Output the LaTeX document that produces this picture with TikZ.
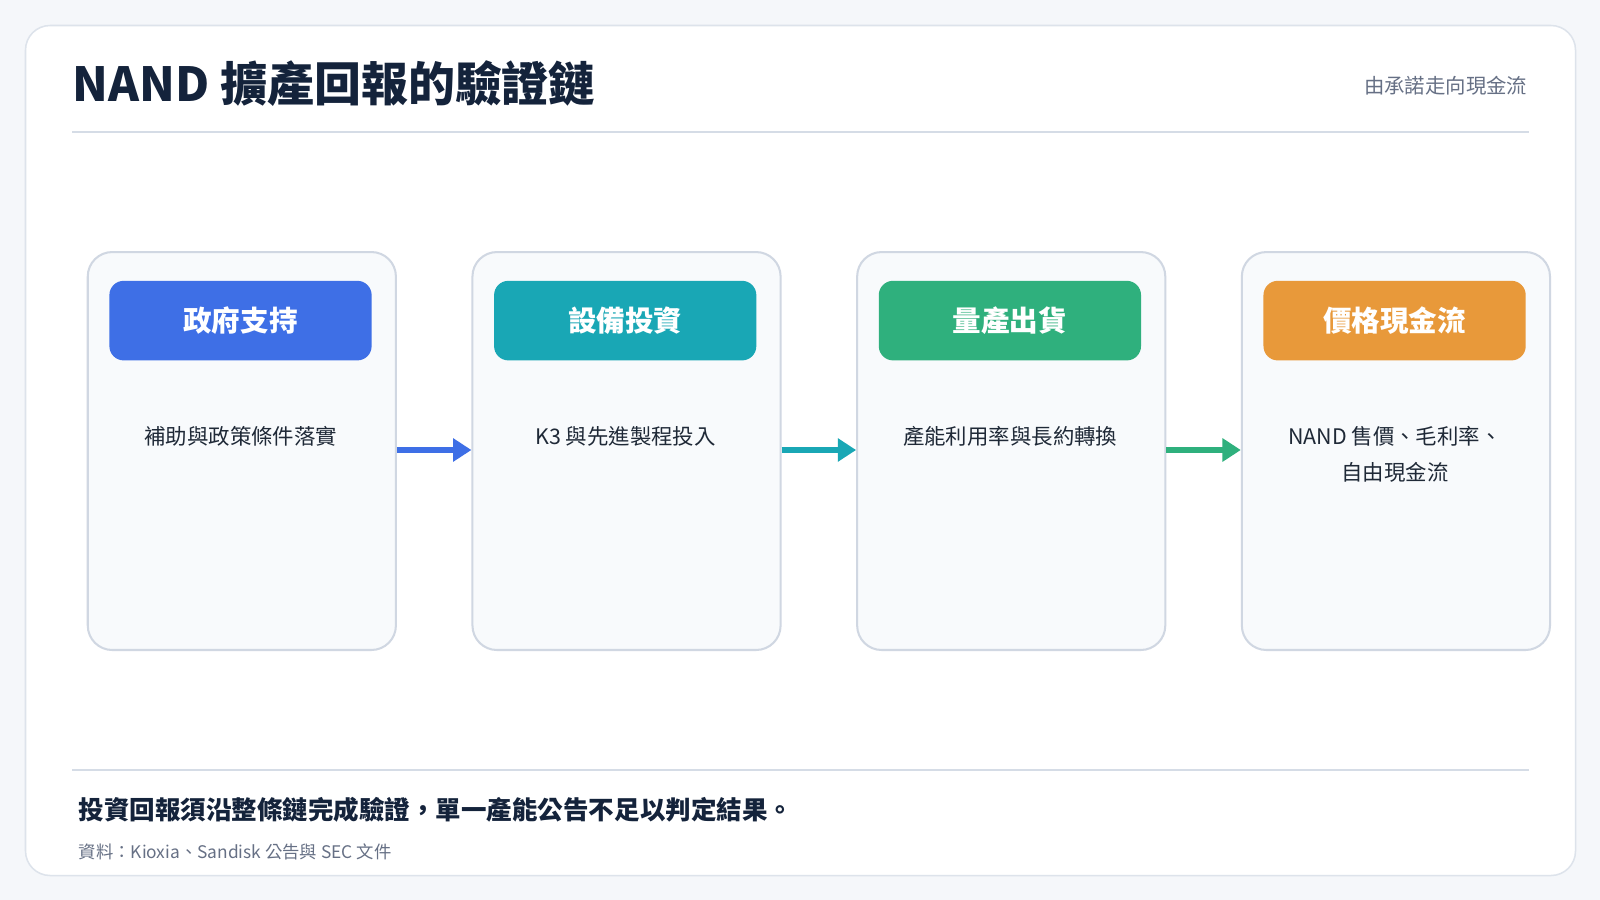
\documentclass[tikz,border=0pt]{standalone}
\usepackage{fontspec}
\setmainfont{Noto Sans CJK TC}
\usetikzlibrary{arrows.meta}
\definecolor{bg}{HTML}{F5F7FA}
\definecolor{cardline}{HTML}{DDE3EB}
\definecolor{rule}{HTML}{D5DCE6}
\definecolor{boxfill}{HTML}{F8FAFC}
\definecolor{boxline}{HTML}{D0D7E2}
\definecolor{navy}{HTML}{14233B}
\definecolor{greytext}{HTML}{667085}
\definecolor{cA}{HTML}{3E6FE6}
\definecolor{cB}{HTML}{19A7B5}
\definecolor{cC}{HTML}{2FB07D}
\definecolor{cD}{HTML}{E8993A}
\definecolor{bodytext}{HTML}{1F2937}
\begin{document}
\begin{tikzpicture}[x=1pt,y=-1pt,
  box/.style={draw=boxline,line width=2pt,fill=boxfill,rounded corners=24pt,minimum width=302pt,minimum height=390pt,anchor=north west},
  head/.style={rounded corners=14pt,minimum width=257pt,minimum height=78pt,text=white,font=\fontsize{28}{30}\selectfont\bfseries,anchor=north west},
  body/.style={text=bodytext,font=\fontsize{21}{36}\selectfont,align=center,anchor=north},
  arr/.style={line width=5pt,-{Triangle[length=18pt,width=22pt]}}]
\useasboundingbox (0,0) rectangle (1568,882);
\fill[bg] (0,0) rectangle (1568,882);
\draw[cardline,line width=1.5pt,fill=white,rounded corners=24pt] (25,25) rectangle (1544,858);
\node[anchor=west,text=navy,font=\fontsize{46}{50}\selectfont\bfseries,inner sep=0] (title) at (71,82) {NAND 擴產回報的驗證鏈};
\node[anchor=east,text=greytext,font=\fontsize{20}{24}\selectfont,inner sep=0] (sub) at (1497,84) {由承諾走向現金流};
\draw[rule,line width=2pt] (71,129) -- (1498,129);
\foreach \i/\x/\c/\h/\b in {1/85/cA/政府支持/補助與政策條件落實,2/462/cB/設備投資/K3 與先進製程投入,3/839/cC/量產出貨/產能利用率與長約轉換,4/1216/cD/價格現金流/{NAND 售價、毛利率、\\自由現金流}}{
  \node[box] (b\i) at (\x,246) {};
  \node[head,fill=\c] (h\i) at (\x+22,275) {\h};
  \node[body] (t\i) at (\x+151,414) {\b};
}
\draw[arr,cA] (b1.east |- 0,441) -- (b2.west |- 0,441);
\draw[arr,cB] (b2.east |- 0,441) -- (b3.west |- 0,441);
\draw[arr,cC] (b3.east |- 0,441) -- (b4.west |- 0,441);
\draw[rule,line width=2pt] (71,755) -- (1498,755);
\node[anchor=west,text=navy,font=\fontsize{25}{28}\selectfont\bfseries,inner sep=0] (concl) at (77,794) {投資回報須沿整條鏈完成驗證，單一產能公告不足以判定結果。};
\node[anchor=west,text=greytext,font=\fontsize{17}{20}\selectfont,inner sep=0] (src) at (77,835) {資料：Kioxia、Sandisk 公告與 SEC 文件};
\end{tikzpicture}
\end{document}
